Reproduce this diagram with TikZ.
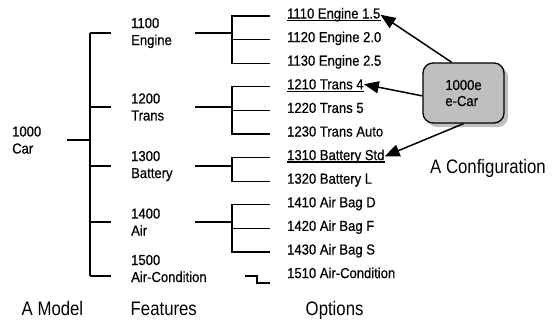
\documentclass[tikz,border=0pt]{standalone}
\usepackage{fontspec}
\newfontfamily\lblfont[FakeStretch=0.9,FakeBold=0.5]{Liberation Sans}
\newfontfamily\capfont[FakeStretch=0.86]{Liberation Sans}
\usetikzlibrary{arrows.meta, shadows}

\begin{document}
\begin{tikzpicture}[x=1pt, y=-1pt,
  lbl/.style={inner sep=0pt, align=left, font=\lblfont\fontsize{14.5}{17}\selectfont},
  captxt/.style={inner sep=0pt, anchor=base west, font=\capfont\fontsize{19.5}{22}\selectfont},
  tree/.style={line width=1.3pt},
  trunk/.style={line width=2.6pt},
  stub/.style={line width=2pt},
  uline/.style={line width=1.5pt},
  arr/.style={-{Triangle[length=15pt,width=12pt]}, line width=1.5pt},
  cfg/.style={draw, line width=1.3pt, rounded corners=10pt, fill=black!25,
              minimum width=81pt, minimum height=60pt, align=left,
              font=\lblfont\fontsize{14.5}{16}\selectfont,
              drop shadow={shadow xshift=4pt, shadow yshift=-4pt, fill=black!50}}
]
\useasboundingbox (0,0) rectangle (553,322);

\coordinate (colM) at (67,0);
\coordinate (colA) at (90,0);
\coordinate (colB) at (195,0);
\coordinate (colC) at (232,0);

\node[lbl, anchor=west] (car)   at (12,140)    {1000\\Car};
\node[lbl, anchor=west] (eng)   at (131,33)    {1100\\Engine};
\node[lbl, anchor=west] (trans) at (131,107)   {1200\\Trans};
\node[lbl, anchor=west] (batt)  at (131,166)   {1300\\Battery};
\node[lbl, anchor=west] (air)   at (131,222)   {1400\\Air};
\node[lbl, anchor=west] (ac)    at (131,268.5) {1500\\Air-Condition};

\foreach \oid/\otxt [count=\i from 0] in {1110/Engine 1.5, 1120/Engine 2.0,
    1130/Engine 2.5, 1210/Trans 4, 1220/Trans 5, 1230/Trans Auto,
    1310/Battery Std, 1320/Battery L, 1410/Air Bag D, 1420/Air Bag F,
    1430/Air Bag S, 1510/Air-Condition} {
  \node[lbl, anchor=base west] (o\oid) at (287, 18.5+23.6*\i) {\oid{} \otxt};
  \coordinate (b\oid) at (270, 16+23.6*\i);
}

\draw[stub] (car -| colM) -- (car -| colA);
\draw[tree] (eng -| colA) -- (trans -| colA);
\draw[trunk] (trans -| colA) -- (air -| colA);
\draw[tree] (air -| colA) -- ([yshift=-7.5pt]ac.west -| colA);

\draw[tree] (eng -| colA)   -- ([xshift=-20pt]eng.west);
\draw[tree] (trans -| colA) -- ([xshift=-20pt]trans.west);
\draw[tree] (batt -| colA)  -- ([xshift=-20pt]batt.west);
\draw[tree] (air -| colA)   -- ([xshift=-20pt]air.west);
\draw[tree] ([yshift=-7.5pt]ac.west -| colA) -- ([shift={(-20pt,-7.5pt)}]ac.west);

\draw[trunk] (eng -| colB)   -- (eng -| colC);
\draw[trunk] (trans -| colB) -- (trans -| colC);
\draw[trunk] (batt -| colB)  -- (batt -| colC);
\draw[trunk] (air -| colB)   -- (air -| colC);

\draw[tree] (b1110) -- (b1110 -| colC) -- (b1130 -| colC) -- (b1130);
\draw[tree] (b1120 -| colC) -- (b1120);
\draw[tree] (b1210) -- (b1210 -| colC) -- (b1230 -| colC) -- (b1230);
\draw[tree] (b1220 -| colC) -- (b1220);
\draw[tree] (b1310) -- (b1310 -| colC) -- (b1320 -| colC) -- (b1320);
\draw[tree] (b1410) -- (b1410 -| colC) -- (b1430 -| colC) -- (b1430);
\draw[tree] (b1420 -| colC) -- (b1420);
\draw[stub] ([xshift=-25pt]b1510) -- ++(12,0) -- ++(0,7.5) -- ++(13,0);

\draw[uline] ([yshift=-2pt]o1110.base west) -- ([yshift=-2pt]o1110.base east);
\draw[uline] ([yshift=-2pt]o1210.base west) -- ([yshift=-2pt]o1210.base east);
\draw[uline] ([yshift=-2pt]o1310.base west) -- ([yshift=-2pt]o1310.base east);

\node[cfg] (ecar) at (463.5,93) {1000e\\e-Car};
\draw[arr] (ecar.111) -- (o1110.east);
\draw[arr] (ecar.184) -- (o1210.east);
\draw[arr] (ecar.south) -- (o1310.east);

\node[captxt] (config) at (430,173.3)   {A Configuration};
\node[captxt] (model)  at (21.5,315.7)  {A Model};
\node[captxt] (feat)   at (130.5,315.7) {Features};
\node[captxt] (opts)   at (305.5,315.7) {Options};
\end{tikzpicture}
\end{document}
